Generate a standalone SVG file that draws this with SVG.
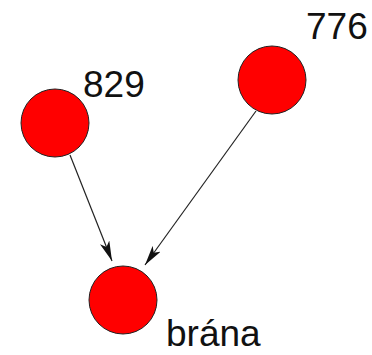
<svg xmlns="http://www.w3.org/2000/svg" width="372" height="355" viewBox="0 0 372 355">
<style>
.node{fill:#ff0000;stroke:#222;stroke-width:1}
.lbl{font-family:"Liberation Sans",Arial,sans-serif;font-size:37px;fill:#111}
.edge{stroke:#222;stroke-width:1.2;fill:none;marker-end:url(#arr)}
</style>
<defs>
<marker id="arr" viewBox="0 0 20 10" refX="20" refY="5" markerWidth="20" markerHeight="10" markerUnits="userSpaceOnUse" orient="auto">
<path d="M0,0 L20,5 L0,10 L5,5 Z" fill="#111"/>
</marker>
</defs>
<rect width="372" height="355" fill="#fff"/>
<g id="edges">
<line class="edge" x1="70" y1="155" x2="112" y2="261"/>
<line class="edge" x1="256" y1="111" x2="145" y2="265"/>
</g>
<g id="n829">
<circle class="node" cx="55" cy="123" r="34"/>
<text class="lbl" x="83" y="97">829</text>
</g>
<g id="n776">
<circle class="node" cx="272" cy="80" r="34"/>
<text class="lbl" x="306" y="39">776</text>
</g>
<g id="nbrana">
<circle class="node" cx="123" cy="300" r="34"/>
<text class="lbl" x="166" y="346">brána</text>
</g>
</svg>
